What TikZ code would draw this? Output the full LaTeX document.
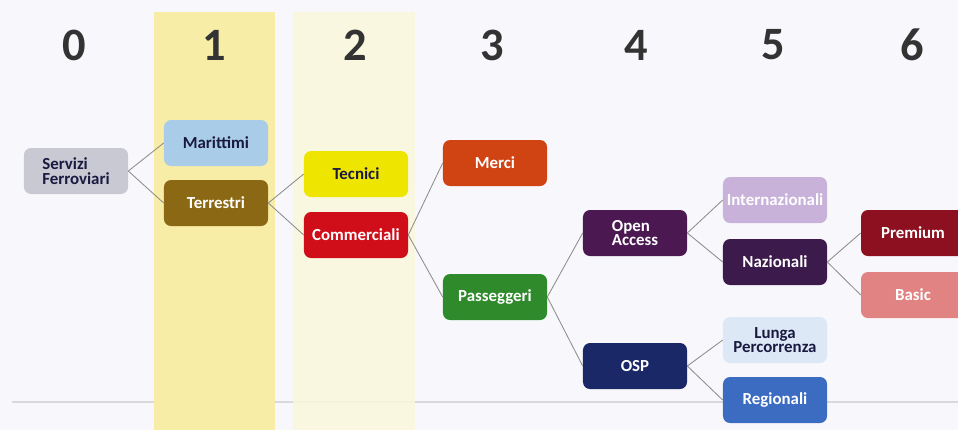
\documentclass[tikz,border=0pt]{standalone}
\usepackage{fontspec}
\setmainfont{Carlito}
\usepackage{tikz}

\definecolor{bandA}{HTML}{F8EDA6}
\definecolor{bandB}{HTML}{FBF7DC}
\definecolor{sfondo}{HTML}{F8F8FC}
\definecolor{cGrigio}{HTML}{C9C9D3}
\definecolor{cAzzurro}{HTML}{A9CDE8}
\definecolor{cMarrone}{HTML}{8B6914}
\definecolor{cGiallo}{HTML}{EEE600}
\definecolor{cRosso}{HTML}{CF0E1A}
\definecolor{cArancio}{HTML}{CF4412}
\definecolor{cVerde}{HTML}{2F8A2C}
\definecolor{cViola}{HTML}{4B1852}
\definecolor{cBlu}{HTML}{1B2868}
\definecolor{cLilla}{HTML}{C8B2DA}
\definecolor{cPrugna}{HTML}{3C1A4C}
\definecolor{cCeleste}{HTML}{DCE8F6}
\definecolor{cRegio}{HTML}{3C6BC2}
\definecolor{cBordeaux}{HTML}{8C1020}
\definecolor{cSalmone}{HTML}{E18383}
\definecolor{testo}{HTML}{1A1A40}

\tikzset{
    box/.style={rounded corners=5pt, minimum width=2.6cm, minimum height=1.15cm,
        inner sep=1pt, font=\bfseries\fontsize{12}{10.5}\selectfont, align=center, text=white},
    link/.style={draw=black!45, line width=0.6pt},
    numero/.style={font=\bfseries\fontsize{33}{33}\selectfont, text=black!80}
}

\begin{document}
\begin{tikzpicture}[x=0.025cm,y=-0.025cm]
                \useasboundingbox (0,0) rectangle (958,430);
                \fill[sfondo] (0,0) rectangle (958,430);
                \draw[black!15, line width=0.8pt] (12,402) -- (958,402);
                \fill[bandA] (154,12) rectangle (275,430);
                \fill[bandB, opacity=.85] (293,12) rectangle (415,430);

                \foreach \n/\x in {0/74,1/214,2/355,3/492,4/636,5/773,6/912}{
                    \node[numero] (col\n) at (\x,45) {\n};
                }

                \node[box, fill=cGrigio, text=testo, align=left] (servizi) at (76,171) {Servizi\\Ferroviari};
                \node[box, fill=cAzzurro, text=testo] (marittimi) at (216,143) {Marittimi};
                \node[box, fill=cMarrone] (terrestri) at (216,203) {Terrestri};
                \node[box, fill=cGiallo, text=testo] (tecnici) at (356,174) {Tecnici};
                \node[box, fill=cRosso] (commerciali) at (356,235) {Commerciali};
                \node[box, fill=cArancio] (merci) at (495,163) {Merci};
                \node[box, fill=cVerde] (passeggeri) at (495,297) {Passeggeri};
                \node[box, fill=cViola, align=left] (open) at (635,233) {Open\\Access};
                \node[box, fill=cBlu] (osp) at (635,366) {OSP};
                \node[box, fill=cLilla] (inter) at (775,200) {Internazionali};
                \node[box, fill=cPrugna] (nazionali) at (775,262) {Nazionali};
                \node[box, fill=cCeleste, text=testo] (lunga) at (775,340) {Lunga\\Percorrenza};
                \node[box, fill=cRegio] (regionali) at (775,400) {Regionali};
                \node[box, fill=cBordeaux] (premium) at (913,233) {Premium};
                \node[box, fill=cSalmone] (basic) at (913,295) {Basic};

                \foreach \a/\b in {servizi/marittimi, servizi/terrestri, terrestri/tecnici,
                        terrestri/commerciali, commerciali/merci, commerciali/passeggeri,
                        passeggeri/open, passeggeri/osp, open/inter, open/nazionali,
                        osp/lunga, osp/regionali, nazionali/premium, nazionali/basic}{
                    \draw[link] (\a.east) -- (\b.west);
                }
            \end{tikzpicture}
\end{document}
